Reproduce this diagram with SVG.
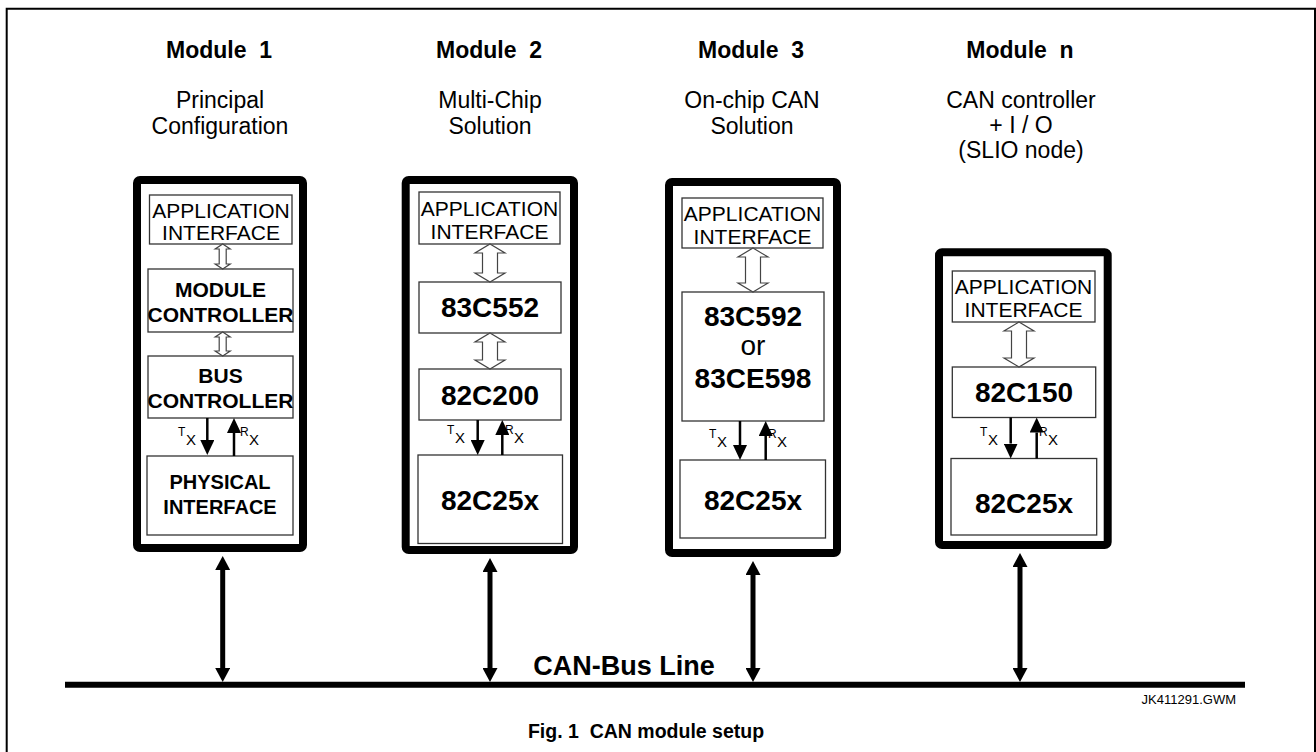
<svg xmlns="http://www.w3.org/2000/svg" width="1316" height="752" viewBox="0 0 1316 752">
<style>
text{font-family:"Liberation Sans",Arial,sans-serif;fill:#000;text-anchor:middle}
.hd{font-size:23px;font-weight:bold;white-space:pre}
.sub{font-size:23px}
.app{font-size:21px}
.blk{font-size:21px;font-weight:bold}
.phy{font-size:20px;font-weight:bold}
.chip{font-size:28px;font-weight:bold}
.or{font-size:28px}
.mod{fill:#fff;stroke:#000;stroke-width:8}
.box{fill:#fff;stroke:#333;stroke-width:1.3}
.hol{fill:#fff;stroke:#444;stroke-width:1.2}
.tx{stroke:#000;stroke-width:2.5;marker-end:url(#ah)}
.bus{stroke:#000;stroke-width:5;marker-start:url(#bh);marker-end:url(#bh)}
.sm{font-size:12px;text-anchor:start}
.sx{font-size:15px;text-anchor:start}
</style>
<defs>
<marker id="ah" viewBox="0 0 15 14" refX="0" refY="7" markerWidth="15" markerHeight="14" markerUnits="userSpaceOnUse" orient="auto">
<path d="M0,0 L15,7 L0,14 z" fill="#000"/>
</marker>
<marker id="bh" viewBox="0 0 14 15" refX="0" refY="7.5" markerWidth="14" markerHeight="15" markerUnits="userSpaceOnUse" orient="auto-start-reverse">
<path d="M0,0 L14,7.5 L0,15 z" fill="#000"/>
</marker>
</defs>
<path d="M6.7,752 V8.7 H1315 V752" fill="none" stroke="#000" stroke-width="2"/>

<g id="module1">
<text class="hd" x="219" y="58" xml:space="preserve">Module  1</text>
<text class="sub" x="220" y="108">Principal</text>
<text class="sub" x="220" y="134">Configuration</text>
<rect class="mod" x="137" y="180" width="166" height="368" rx="3"/>
<rect class="box" x="149.5" y="195" width="142.5" height="49"/>
<text class="app" x="221" y="217.5">APPLICATION</text>
<text class="app" x="221" y="240">INTERFACE</text>
<rect class="box" x="148" y="269" width="145" height="63"/>
<text class="blk" x="220.5" y="297">MODULE</text>
<text class="blk" x="220.5" y="322">CONTROLLER</text>
<rect class="box" x="148" y="356" width="145" height="62"/>
<text class="blk" x="220.5" y="383">BUS</text>
<text class="blk" x="220.5" y="408">CONTROLLER</text>
<rect class="box" x="147" y="456" width="146" height="79"/>
<text class="phy" x="220" y="489">PHYSICAL</text>
<text class="phy" x="220" y="514">INTERFACE</text>
<text class="sm" x="178" y="436">T</text><text class="sx" x="186" y="445">X</text>
<text class="sm" x="240" y="436">R</text><text class="sx" x="249" y="445">X</text>
</g>

<g id="module2">
<text class="hd" x="489" y="58" xml:space="preserve">Module  2</text>
<text class="sub" x="490" y="108">Multi-Chip</text>
<text class="sub" x="490" y="134">Solution</text>
<rect class="mod" x="405.7" y="180" width="168.3" height="370" rx="3"/>
<rect class="box" x="419" y="192" width="141" height="52"/>
<text class="app" x="489.5" y="216">APPLICATION</text>
<text class="app" x="489.5" y="239">INTERFACE</text>
<rect class="box" x="419" y="282" width="142" height="51"/>
<text class="chip" x="490" y="317">83C552</text>
<rect class="box" x="419" y="369" width="142" height="51"/>
<text class="chip" x="490" y="405">82C200</text>
<rect class="box" x="418" y="455" width="144.5" height="88.5"/>
<text class="chip" x="490" y="510">82C25x</text>
<text class="sm" x="447" y="434">T</text><text class="sx" x="455" y="443">X</text>
<text class="sm" x="505" y="434">R</text><text class="sx" x="514" y="443">X</text>
</g>

<g id="module3">
<text class="hd" x="751" y="58" xml:space="preserve">Module  3</text>
<text class="sub" x="752" y="108">On-chip CAN</text>
<text class="sub" x="752" y="134">Solution</text>
<rect class="mod" x="669" y="182" width="168" height="371" rx="3"/>
<rect class="box" x="682" y="198" width="141" height="50"/>
<text class="app" x="752.5" y="221">APPLICATION</text>
<text class="app" x="752.5" y="244">INTERFACE</text>
<rect class="box" x="682" y="292" width="142" height="129"/>
<text class="chip" x="753" y="326">83C592</text>
<text class="or" x="753" y="355">or</text>
<text class="chip" x="753" y="388">83CE598</text>
<rect class="box" x="680" y="460" width="145.5" height="78"/>
<text class="chip" x="753" y="510">82C25x</text>
<text class="sm" x="709" y="438">T</text><text class="sx" x="717" y="447">X</text>
<text class="sm" x="768" y="438">R</text><text class="sx" x="777" y="447">X</text>
</g>

<g id="modulen">
<text class="hd" x="1020" y="58" xml:space="preserve">Module  n</text>
<text class="sub" x="1021" y="108">CAN controller</text>
<text class="sub" x="1021" y="133">+ I / O</text>
<text class="sub" x="1021" y="158">(SLIO node)</text>
<rect class="mod" x="939" y="252.3" width="168.7" height="292.7" rx="3"/>
<rect class="box" x="952.3" y="271" width="142.7" height="51"/>
<text class="app" x="1023.5" y="294">APPLICATION</text>
<text class="app" x="1023.5" y="317">INTERFACE</text>
<rect class="box" x="952.3" y="367" width="143.4" height="50.5"/>
<text class="chip" x="1024" y="402">82C150</text>
<rect class="box" x="951" y="458.5" width="145.7" height="76.5"/>
<text class="chip" x="1024" y="513">82C25x</text>
<text class="sm" x="980" y="436">T</text><text class="sx" x="988" y="445">X</text>
<text class="sm" x="1039" y="436">R</text><text class="sx" x="1048" y="445">X</text>
</g>

<g id="bus">
<line x1="65" y1="684.7" x2="1245" y2="684.7" stroke="#000" stroke-width="6"/>
<text x="624" y="675" style="font-size:27px;font-weight:bold">CAN-Bus Line</text>
<text x="1236" y="704" style="font-size:13px;text-anchor:end">JK411291.GWM</text>
</g>

<g id="caption">
<text x="646" y="738" style="font-size:19.5px;font-weight:bold" xml:space="preserve">Fig. 1  CAN module setup</text>
</g>

<g id="connectors">
<polygon class="hol" points="222.7,244 230.2,249 226.2,249 226.2,264 230.2,264 222.7,269 215.2,264 219.2,264 219.2,249 215.2,249"/>
<polygon class="hol" points="222.7,332 230.2,337 226.2,337 226.2,351 230.2,351 222.7,356 215.2,351 219.2,351 219.2,337 215.2,337"/>
<polygon class="hol" points="490,244 505,253 497.5,253 497.5,273 505,273 490,282 475,273 482.5,273 482.5,253 475,253"/>
<polygon class="hol" points="490,333 505,342 497.5,342 497.5,360 505,360 490,369 475,360 482.5,360 482.5,342 475,342"/>
<polygon class="hol" points="753,248 768,257 760.5,257 760.5,283 768,283 753,292 738,283 745.5,283 745.5,257 738,257"/>
<polygon class="hol" points="1019,322 1034,331 1026.5,331 1026.5,358 1034,358 1019,367 1004,358 1011.5,358 1011.5,331 1004,331"/>
<line class="tx" x1="207.3" y1="418" x2="207.3" y2="440"/>
<line class="tx" x1="234" y1="456" x2="234" y2="433"/>
<line class="tx" x1="477.7" y1="420" x2="477.7" y2="440"/>
<line class="tx" x1="502.3" y1="455" x2="502.3" y2="435"/>
<line class="tx" x1="740" y1="421" x2="740" y2="445"/>
<line class="tx" x1="765.7" y1="460" x2="765.7" y2="436"/>
<line class="tx" x1="1010.7" y1="417.5" x2="1010.7" y2="443.5"/>
<line class="tx" x1="1036.7" y1="458.5" x2="1036.7" y2="432.5"/>
<line class="bus" x1="222.7" y1="570" x2="222.7" y2="668"/>
<line class="bus" x1="490" y1="572" x2="490" y2="668"/>
<line class="bus" x1="753" y1="575" x2="753" y2="668"/>
<line class="bus" x1="1020" y1="567" x2="1020" y2="668"/>
</g>
</svg>
